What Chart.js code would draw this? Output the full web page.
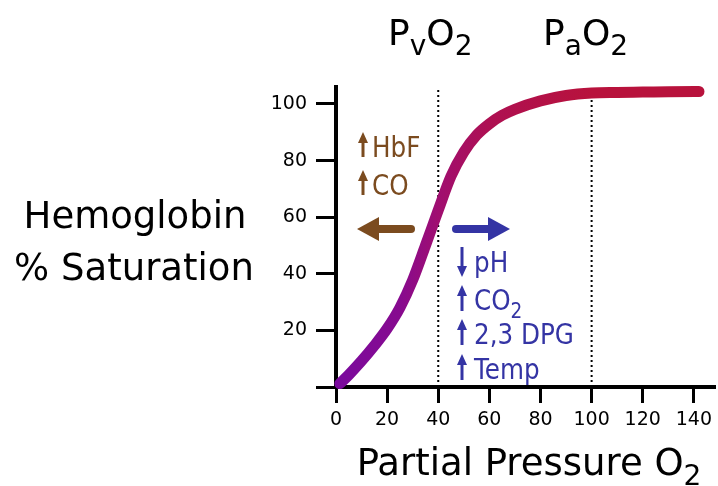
<!DOCTYPE html>
<html>
<head>
<meta charset="utf-8">
<script src="https://cdn.jsdelivr.net/npm/chart.js@4.4.1/dist/chart.umd.min.js"></script>
<style>
body{margin:0;background:#fff;}
canvas{display:block;}
</style>
</head>
<body>
<canvas id="chart" width="718" height="486"></canvas>
<script>
// oxygen dissociation curve
const pressure = [1.5, 5, 10, 15, 20, 25, 30, 35, 40, 45, 50, 55, 60, 65, 70, 80, 90, 100, 110, 120, 130, 142];
const saturation = [1.2, 4.3, 9.2, 14.6, 20.6, 28.0, 37.8, 50.0, 62.5, 74.5, 83.0, 89.0, 93.0, 96.0, 98.1, 101.1, 103.0, 103.9, 104.1, 104.2, 104.3, 104.4];
const xTicks = [0, 20, 40, 60, 80, 100, 120, 140];
const yTicks = [0, 20, 40, 60, 80, 100];
const markers = [40, 100];
const leftShift = ["HbF", "CO"];
const rightShift = [["down", "pH"], ["up", "CO", "2"], ["up", "2,3 DPG"], ["up", "Temp"]];

const FONT = "DejaVu Sans";
const BROWN = "#7b4b1f";
const BLUE = "#3434a4";

function curveColor(c){
const chart = c.chart;
if(!chart.chartArea) return "#a0106e";
const xs = chart.scales.x;
const g = chart.ctx.createLinearGradient(xs.getPixelForValue(0), 0, xs.getPixelForValue(100), 0);
g.addColorStop(0, "#7a0a9e");
g.addColorStop(0.25, "#870a8f");
g.addColorStop(0.4, "#a00e70");
g.addColorStop(0.6, "#ae1052");
g.addColorStop(1, "#b8123c");
return g;
}

// text with subscripts: parts = [[text, isSub], ...], sx = horizontal squeeze
function drawParts(ctx, parts, x, y, size, subSize, align, sx){
sx = sx || 1;
let w = 0;
parts.forEach(p => {
ctx.font = (p[1] ? subSize : size) + "px '" + FONT + "'";
w += ctx.measureText(p[0]).width;
});
ctx.save();
ctx.translate(x, y);
ctx.scale(sx, 1);
let cx = align === "center" ? -w/2 : 0;
ctx.textAlign = "left";
ctx.textBaseline = "alphabetic";
parts.forEach(p => {
ctx.font = (p[1] ? subSize : size) + "px '" + FONT + "'";
ctx.fillText(p[0], cx, p[1] ? size*0.28 : 0);
cx += ctx.measureText(p[0]).width;
});
ctx.restore();
}

function smallArrow(ctx, x, top, bottom, dir, color){
ctx.save();
ctx.strokeStyle = color;
ctx.fillStyle = color;
ctx.lineWidth = 3;
ctx.beginPath();
if(dir === "up"){
ctx.moveTo(x, bottom); ctx.lineTo(x, top + 8);
}else{
ctx.moveTo(x, top); ctx.lineTo(x, bottom - 8);
}
ctx.stroke();
ctx.beginPath();
if(dir === "up"){
ctx.moveTo(x, top); ctx.lineTo(x - 5, top + 11); ctx.lineTo(x + 5, top + 11);
}else{
ctx.moveTo(x, bottom); ctx.lineTo(x - 5, bottom - 11); ctx.lineTo(x + 5, bottom - 11);
}
ctx.closePath();
ctx.fill();
ctx.restore();
}

function bigArrow(ctx, tail, tip, y, color){
const d = tip > tail ? 1 : -1;
const base = tip - d*22;
ctx.save();
ctx.strokeStyle = color;
ctx.fillStyle = color;
ctx.lineWidth = 8;
ctx.lineCap = "round";
ctx.beginPath();
ctx.moveTo(tail, y); ctx.lineTo(base, y);
ctx.stroke();
ctx.beginPath();
ctx.moveTo(tip, y); ctx.lineTo(base, y - 12); ctx.lineTo(base, y + 12);
ctx.closePath();
ctx.fill();
ctx.restore();
}

const labels = {
id: "labels",
afterDraw(chart){
const ctx = chart.ctx;
const xs = chart.scales.x;
ctx.save();
ctx.fillStyle = "#000";
drawParts(ctx, [["P", false], ["v", true], ["O", false], ["2", true]], xs.getPixelForValue(markers[0]) - 8, 45, 36, 28, "center");
drawParts(ctx, [["P", false], ["a", true], ["O", false], ["2", true]], xs.getPixelForValue(markers[1]) - 6, 45, 36, 28, "center");
ctx.font = "37px '" + FONT + "'";
ctx.textAlign = "center";
ctx.fillText("Hemoglobin", 135, 228);
ctx.fillText("% Saturation", 134, 280);
drawParts(ctx, [["Partial Pressure O", false], ["2", true]], 529, 475, 37, 28, "center");

// left shift
ctx.fillStyle = BROWN;
leftShift.forEach((t, i) => {
const base = 157 + i*38;
smallArrow(ctx, 363, base - 25, base, "up", BROWN);
drawParts(ctx, [[t, false]], 372, base, 28, 21, "left", 0.88);
});
bigArrow(ctx, 411, 357, 229, BROWN);

// right shift
ctx.fillStyle = BLUE;
bigArrow(ctx, 456, 510, 229, BLUE);
const bases = [272, 310, 344, 379];
rightShift.forEach((r, i) => {
const base = bases[i];
smallArrow(ctx, 462, base - 25, base + (r[0] === "down" ? 5 : 1), r[0], BLUE);
const parts = [[r[1], false]];
if(r[2]) parts.push([r[2], true]);
drawParts(ctx, parts, 474, base, 28, 21, "left", 0.88);
});
ctx.restore();
}
};

const markerSets = markers.map(m => ({
data: [{x: m, y: 0}, {x: m, y: 106}],
borderColor: "#000",
borderWidth: 2,
borderDash: [2, 3],
pointRadius: 0
}));

new Chart(document.getElementById("chart"), {
type: "line",
data: {
datasets: [{
data: pressure.map((p, i) => ({x: p, y: saturation[i]})),
borderColor: curveColor,
borderWidth: 11,
borderCapStyle: "round",
borderJoinStyle: "round",
cubicInterpolationMode: "monotone",
pointRadius: 0,
clip: false
}].concat(markerSets)
},
options: {
responsive: false,
animation: false,
layout: {padding: {top: 87, right: 0, left: 0, bottom: 0}},
plugins: {legend: {display: false}, tooltip: {enabled: false}},
scales: {
x: {
type: "linear",
min: 0,
max: 148.6,
afterFit(s){ s.height = 99; },
afterBuildTicks(s){ s.ticks = xTicks.map(v => ({value: v})); },
ticks: {autoSkip: false, maxRotation: 0, color: "#000", padding: 6, font: {family: FONT, size: 19}},
grid: {drawOnChartArea: false, drawTicks: true, tickLength: 16, tickWidth: 3, tickColor: "#000"},
border: {display: true, color: "#000", width: 4}
},
y: {
type: "linear",
min: 0,
max: 106,
afterFit(s){ s.width = 336; },
afterBuildTicks(s){ s.ticks = yTicks.map(v => ({value: v})); },
ticks: {autoSkip: false, color: "#000", padding: 9, font: {family: FONT, size: 19},
callback: v => v === 0 ? "" : v},
grid: {drawOnChartArea: false, drawTicks: true, tickLength: 20, tickWidth: 3, tickColor: "#000"},
border: {display: true, color: "#000", width: 4}
}
}
},
plugins: [labels]
});
</script>
</body>
</html>
